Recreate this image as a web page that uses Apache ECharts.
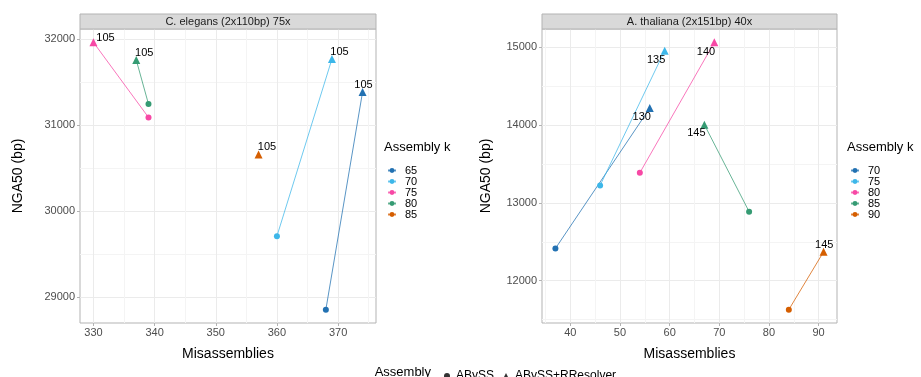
<!DOCTYPE html>
<html><head><meta charset="utf-8">
<script src="https://cdn.jsdelivr.net/npm/echarts@6/dist/echarts.min.js"></script>
<style>html,body{margin:0;padding:0;background:#fff}#c{width:921px;height:377px}</style>
</head><body><div id="c"></div><script>
// ---------- data ----------
const kColors = ['#2271B2', '#3DB7E9', '#F748A5', '#359B73', '#D55E00'];

// Left panel: C. elegans
const leftTitle = 'C. elegans (2x110bp) 75x';
const leftK = ['65', '70', '75', '80', '85'];
const leftAbyssMis = [368, 360, 339, 339, null];
const leftAbyssNga = [28855, 29710, 31092, 31247, null];
const leftRrMis = [374, 369, 330, 337, 357];
const leftRrNga = [31386, 31772, 31965, 31760, 30660];
const leftRrK = ['105', '105', '105', '105', '105'];
const leftXTicks = [330, 340, 350, 360, 370];
const leftYTicks = [29000, 30000, 31000, 32000];

// Right panel: A. thaliana
const rightTitle = 'A. thaliana (2x151bp) 40x';
const rightK = ['70', '75', '80', '85', '90'];
const rightAbyssMis = [37, 46, 54, 76, 84];
const rightAbyssNga = [12414, 13223, 13386, 12887, 11629];
const rightRrMis = [56, 59, 69, 67, 91];
const rightRrNga = [14216, 14953, 15060, 14003, 12371];
const rightRrK = ['130', '135', '140', '145', '145'];
const rightXTicks = [40, 50, 60, 70, 80, 90];
const rightYTicks = [12000, 13000, 14000, 15000];

const assemblyTypes = ['ABySS', 'ABySS+RResolver'];

// ---------- styles / layout ----------
const leftLabelOffsets = [[1, -7], [7.5, -7.3], [12, -4.3], [8, -7.3], [8.4, -7.7]];
const rightLabelOffsets = [[-8, 8.7], [-8.6, 9.3], [-8.3, 9.4], [-8, 8.7], [0.7, -7]];
const FONT = 'Liberation Sans';
const G = [
  { left: 80, top: 29, width: 296, height: 294 },
  { left: 542, top: 29, width: 295, height: 294 }
];

function expand(vals) {
  const v = vals.filter(x => x != null);
  const lo = Math.min(...v), hi = Math.max(...v), r = hi - lo;
  return [lo - 0.05 * r, hi + 0.05 * r];
}

function xAxis(gi, ticks, ext, gap) {
  return {
    type: 'value', gridIndex: gi, min: ext[0], max: ext[1], splitNumber: 5,
    name: 'Misassemblies', nameLocation: 'middle', nameGap: gap,
    nameTextStyle: { fontSize: 14, color: '#000', fontFamily: FONT },
    axisLine: { show: false },
    axisTick: { show: true, length: 3, lineStyle: { color: '#b3b3b3' }, customValues: ticks },
    axisLabel: { customValues: ticks, formatter: v => String(v), color: '#4d4d4d', fontSize: 11, margin: 4, fontFamily: FONT },
    splitLine: { show: true, lineStyle: { color: '#ebebeb', width: 1 } },
    minorTick: { show: false, splitNumber: 2 },
    minorSplitLine: { show: true, lineStyle: { color: '#f4f4f4', width: 1 } }
  };
}
function yAxis(gi, ticks, ext, gap) {
  return {
    type: 'value', gridIndex: gi, min: ext[0], max: ext[1], splitNumber: 3,
    name: 'NGA50 (bp)', nameLocation: 'middle', nameGap: gap,
    nameTextStyle: { fontSize: 14, color: '#000', fontFamily: FONT },
    axisLine: { show: false },
    axisTick: { show: true, length: 3, lineStyle: { color: '#b3b3b3' }, customValues: ticks },
    axisLabel: { customValues: ticks, formatter: v => String(v), color: '#4d4d4d', fontSize: 11, margin: 5, fontFamily: FONT },
    splitLine: { show: true, lineStyle: { color: '#ebebeb', width: 1 } },
    minorTick: { show: false, splitNumber: 2 },
    minorSplitLine: { show: true, lineStyle: { color: '#f4f4f4', width: 1 } }
  };
}

function buildSeries(prefix, ks, aM, aN, rM, rN, rK, gi, offs) {
  return ks.map((k, i) => {
    const data = [];
    if (aM[i] != null) {
      data.push({ value: [aM[i], aN[i]], symbol: 'circle', symbolSize: 6, label: { show: false } });
    }
    data.push({
      value: [rM[i], rN[i]], symbol: 'triangle', symbolSize: 8,
      label: { show: true, formatter: rK[i], position: 'inside', offset: offs[i] }
    });
    return {
      type: 'line', name: prefix + k, xAxisIndex: gi, yAxisIndex: gi, data,
      symbol: 'circle', symbolSize: 6, color: kColors[i],
      lineStyle: { width: 1, color: kColors[i], opacity: 0.75 },
      itemStyle: { color: kColors[i], opacity: 1 },
      label: { color: '#000', fontSize: 11, fontFamily: FONT, align: 'center', verticalAlign: 'middle' },
      emphasis: { disabled: true }, silent: true, animation: false, z: 3
    };
  });
}

const series = [
  ...buildSeries('L', leftK, leftAbyssMis, leftAbyssNga, leftRrMis, leftRrNga, leftRrK, 0, leftLabelOffsets),
  ...buildSeries('R', rightK, rightAbyssMis, rightAbyssNga, rightRrMis, rightRrNga, rightRrK, 1, rightLabelOffsets),
  { type: 'scatter', name: assemblyTypes[0], xAxisIndex: 0, yAxisIndex: 0, data: [], symbol: 'circle', itemStyle: { color: '#000' } },
  { type: 'scatter', name: assemblyTypes[1], xAxisIndex: 0, yAxisIndex: 0, data: [], symbol: 'triangle', itemStyle: { color: '#000' } }
];

function kLegend(prefix, ks, left) {
  return {
    orient: 'vertical', left: left, top: 160, itemWidth: 8, itemHeight: 6, itemGap: 0,
    selectedMode: false, data: ks.map(k => prefix + k),
    formatter: n => n.slice(1),
    textStyle: { fontSize: 11, lineHeight: 11, color: '#000', fontFamily: FONT, padding: [0, 0, 0, 4] }
  };
}

const option = {
  animation: false,
  textStyle: { fontFamily: FONT },
  grid: G.map(g => Object.assign({ show: true, borderColor: '#b3b3b3', borderWidth: 1, backgroundColor: '#fff', containLabel: false }, g)),
  xAxis: [xAxis(0, leftXTicks, expand(leftAbyssMis.concat(leftRrMis)), 24),
          xAxis(1, rightXTicks, expand(rightAbyssMis.concat(rightRrMis)), 24)],
  yAxis: [yAxis(0, leftYTicks, expand(leftAbyssNga.concat(leftRrNga)), 55),
          yAxis(1, rightYTicks, expand(rightAbyssNga.concat(rightRrNga)), 49)],
  legend: [
    kLegend('L', leftK, 382),
    kLegend('R', rightK, 845),
    {
      orient: 'horizontal', left: 439, top: 365, itemWidth: 6, itemHeight: 6, itemGap: 9,
      selectedMode: false, data: [{ name: assemblyTypes[0], icon: 'circle' }, { name: assemblyTypes[1], icon: 'triangle' }],
      textStyle: { fontSize: 12, lineHeight: 12, color: '#000', fontFamily: FONT, padding: [0, 0, 0, 1] }
    }
  ],
  graphic: [
    { type: 'rect', shape: { x: G[0].left, y: 14, width: G[0].width, height: 15 }, style: { fill: '#d9d9d9', stroke: '#b3b3b3', lineWidth: 1 }, z: 10 },
    { type: 'text', x: G[0].left + G[0].width / 2, y: 21.5, style: { text: leftTitle, fontSize: 11, fill: '#1a1a1a', align: 'center', verticalAlign: 'middle', fontFamily: FONT }, z: 11 },
    { type: 'rect', shape: { x: G[1].left, y: 14, width: G[1].width, height: 15 }, style: { fill: '#d9d9d9', stroke: '#b3b3b3', lineWidth: 1 }, z: 10 },
    { type: 'text', x: G[1].left + G[1].width / 2, y: 21.5, style: { text: rightTitle, fontSize: 11, fill: '#1a1a1a', align: 'center', verticalAlign: 'middle', fontFamily: FONT }, z: 11 },
    { type: 'text', x: 384, y: 147, style: { text: 'Assembly k', fontSize: 13, fill: '#000', align: 'left', verticalAlign: 'middle', fontFamily: FONT }, z: 11 },
    { type: 'text', x: 847, y: 147, style: { text: 'Assembly k', fontSize: 13, fill: '#000', align: 'left', verticalAlign: 'middle', fontFamily: FONT }, z: 11 },
    { type: 'text', x: 431, y: 372, style: { text: 'Assembly', fontSize: 13, fill: '#000', align: 'right', verticalAlign: 'middle', fontFamily: FONT }, z: 11 }
  ],
  series
};

const chart = echarts.init(document.getElementById('c'), null, { renderer: 'canvas' });
chart.setOption(option);
</script></body></html>
